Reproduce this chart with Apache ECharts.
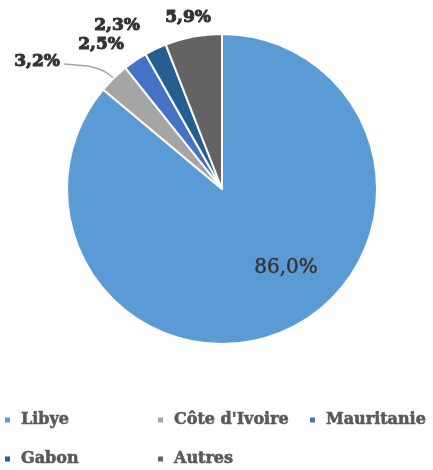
<!DOCTYPE html>
<html>
<head>
<meta charset="utf-8">
<style>
  * { margin: 0; padding: 0; }
  #container { width: 433px; height: 470px; background: #fff; }
</style>
</head>
<body>
<div id="container"></div>
<script src="https://cdn.jsdelivr.net/npm/echarts@6/dist/echarts.min.js"></script>
<script>
  var categories = ['Libye', "Côte d'Ivoire", 'Mauritanie', 'Gabon', 'Autres'];
  var shares = [86.0, 3.2, 2.5, 2.3, 5.9];
  var colors = ['#5B9BD5', '#A5A5A5', '#4472C4', '#255E91', '#636363'];
  // where Excel had put the percentage labels (text centres)
  var labelSpots = [[286, 268], [37, 62], [101, 45], [117, 26], [188, 18]];
  // legend slots: [left, top]
  var legendSlots = [[3, 410], [156, 410], [308, 410], [3, 449], [156, 449]];

  var font = 'DejaVu Serif';
  var dom = document.getElementById('container');
  var myChart = echarts.init(dom);

  var pieData = categories.map(function (name, i) {
    return {
      name: name,
      value: shares[i],
      itemStyle: { color: colors[i] },
      label: i === 0
        ? { position: 'inside', fontSize: 20, fontWeight: 'normal', textBorderColor: '#404040', textBorderWidth: 0.5 }
        : { position: 'outside', fontSize: 17, fontWeight: 'bold', textBorderColor: '#333', textBorderWidth: 1 },
      labelLine: { show: i === 1 }
    };
  });

  var legends = categories.map(function (name, i) {
    return {
      data: [name],
      left: legendSlots[i][0],
      top: legendSlots[i][1],
      orient: 'horizontal',
      icon: 'rect',
      itemWidth: 7,
      itemHeight: 7,
      padding: 0,
      selectedMode: false,
      textStyle: {
        fontFamily: font,
        fontSize: 16,
        fontWeight: 'bold',
        color: '#595959',
        textBorderColor: '#595959',
        textBorderWidth: 0.6,
        lineHeight: 20,
        padding: [0, 0, 0, 5]
      }
    };
  });

  var option = {
    animation: false,
    color: colors,
    legend: legends,
    series: [{
      type: 'pie',
      center: [222, 189],
      radius: 155,
      startAngle: 90,
      clockwise: true,
      avoidLabelOverlap: false,
      data: pieData,
      itemStyle: { borderColor: '#fff', borderWidth: 2 },
      label: {
        fontFamily: font,
        color: '#333',
        formatter: function (p) {
          return p.value.toFixed(1).replace('.', ',') + '%';
        }
      },
      labelLine: {
        lineStyle: { color: '#A5A5A5', width: 1.5 },
        smooth: 0.4
      },
      labelLayout: function (params) {
        var spot = labelSpots[params.dataIndex];
        var out = { x: spot[0], y: spot[1], align: 'center', verticalAlign: 'middle' };
        if (params.dataIndex === 1 && params.labelLinePoints) {
          var p0 = params.labelLinePoints[0];
          var endX = spot[0] + params.labelRect.width / 2 + 4;
          out.labelLinePoints = [p0, [p0[0] - 14, p0[1] - 11], [endX, spot[1] + 2]];
        }
        return out;
      }
    }]
  };

  myChart.setOption(option);
</script>
</body>
</html>
